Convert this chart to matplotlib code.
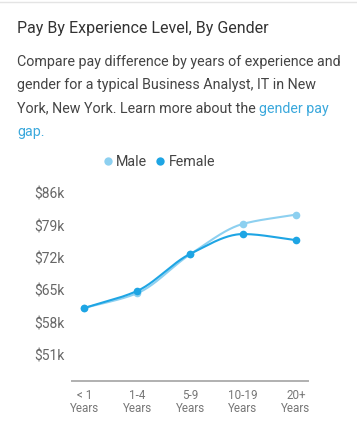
import numpy as np
import matplotlib; matplotlib.use("Agg"); import matplotlib.pyplot as plt
from matplotlib.lines import Line2D

plt.rcParams['font.family'] = ['Roboto', 'DejaVu Sans']

levels = ["< 1\nYears", "1-4\nYears", "5-9\nYears", "10-19\nYears", "20+\nYears"]
male = [61.2, 64.4, 72.8, 79.4, 81.4]      # $k
female = [61.2, 64.9, 72.9, 77.2, 75.9]    # $k
yticks = [51, 58, 65, 72, 79, 86]
c_male, c_female = "#8dd0f0", "#1ea5e4"


def smooth(x, y, n=40):
    # monotone cubic (Fritsch-Carlson), only for drawing the line
    x = np.asarray(x, float); y = np.asarray(y, float)
    h = np.diff(x); d = np.diff(y) / h
    m = np.zeros_like(y)
    m[0], m[-1] = d[0], d[-1]
    for i in range(1, len(y) - 1):
        m[i] = 0 if d[i-1] * d[i] <= 0 else 2 / (1/d[i-1] + 1/d[i])
    xs, ys = [], []
    for i in range(len(h)):
        t = np.linspace(0, 1, n)
        h00 = 2*t**3 - 3*t**2 + 1; h10 = t**3 - 2*t**2 + t
        h01 = -2*t**3 + 3*t**2;    h11 = t**3 - t**2
        xs.append(x[i] + t*h[i])
        ys.append(h00*y[i] + h10*h[i]*m[i] + h01*y[i+1] + h11*h[i]*m[i+1])
    return np.concatenate(xs), np.concatenate(ys)


fig = plt.figure(figsize=(3.57, 4.25), dpi=100)
fig.patch.set_facecolor("white")
fig.add_artist(Line2D([0, 1], [0.996, 0.996], color="#e4e4e4", lw=1))

ax = fig.add_axes([71.7/357, 1-381/425, 236.3/357, 201/425])

fig.text(17/357, 1-29/425, "Pay By Experience Level, By Gender",
         fontsize=11.5, color="#333333", va="center")
body = ["Compare pay difference by years of experience and",
        "gender for a typical Business Analyst, IT in New",
        "York, New York. Learn more about the "]
for i, line in enumerate(body):
    t = fig.text(17/357, 1-(62+23.3*i)/425, line, fontsize=10.3,
                 color="#444444", va="center")
ax.annotate("gender pay", xy=(1, 0.5), xycoords=t, va="center",
            fontsize=10.3, color="#3aa8dc", annotation_clip=False)
fig.text(17/357, 1-(62+23.3*3)/425, "gap.", fontsize=10.3,
         color="#3aa8dc", va="center")

x = np.arange(len(levels))
for vals, col in [(male, c_male), (female, c_female)]:
    xs, ys = smooth(x, vals)
    ax.plot(xs, ys, color=col, lw=1.5, solid_capstyle="round")
    ax.plot(x, vals, "o", color=col, ms=5.5, mec="none")

ax.set_xlim(-0.24, 4.23)
ax.set_ylim(45.4, 88.9)
ax.set_yticks(yticks)
ax.set_yticklabels([f"${v}k" for v in yticks])
ax.set_xticks(x)
ax.set_xticklabels(levels, linespacing=0.95)
ax.tick_params(axis="y", length=0, pad=5, labelsize=10, labelcolor="#666666")
ax.tick_params(axis="x", length=0, pad=6, labelsize=8.4, labelcolor="#777777")
for s in ["top", "right", "left"]:
    ax.spines[s].set_visible(False)
ax.spines["bottom"].set_color("#b0b0b0")
ax.spines["bottom"].set_linewidth(1.4)
ax.patch.set_alpha(0)

handles = [Line2D([], [], marker="o", ls="", color=c_male, ms=6, mec="none"),
           Line2D([], [], marker="o", ls="", color=c_female, ms=6, mec="none")]
fig.legend(handles, ["Male", "Female"], loc="center", ncol=2, frameon=False,
           bbox_to_anchor=(158/357, 1-162/425), fontsize=10.3,
           handletextpad=0.1, columnspacing=0.4, handlelength=1,
           labelcolor="#444444")

fig.savefig("out.png", dpi=100)
